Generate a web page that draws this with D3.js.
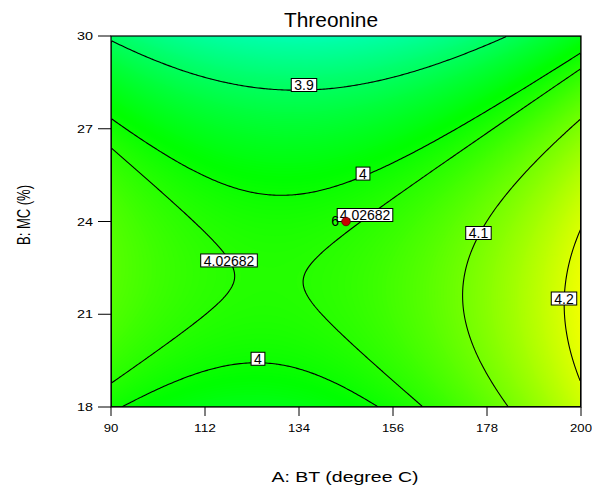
<!DOCTYPE html>
<html><head><meta charset="utf-8">
<script src="https://cdn.jsdelivr.net/npm/d3@7"></script>
<style>
body{margin:0;background:#fff}
svg{display:block}
text{font-family:"Liberation Sans",Arial,sans-serif;fill:#000}
</style>
</head><body>
<svg id="c" width="592" height="493"></svg>
<script>
// ---------------- data ----------------
const title = "Threonine";
const xLabel = "A: BT (degree C)";
const yLabel = "B: MC (%)";
const xDomain = [90, 200];
const yDomain = [18, 30];
const xTicks = [90, 112, 134, 156, 178, 200];
const yTicks = [18, 21, 24, 27, 30];
// quadratic response-surface model in coded units: Intercept, A, B, AB, A^2, B^2
const coefTerms = ["Intercept", "A", "B", "AB", "A2", "B2"];
const coefValues = [4.02227, 0.06411, -0.08199, -0.02562, 0.10980, -0.11865];
const contourLevels = [3.9, 4, 4.02682, 4.1, 4.2];
const labelTexts = ["3.9", "4", "4.02682", "4.1", "4.2", "4"];
const designPointA = [145];
const designPointB = [24];
const designPointCount = ["6"];
const designPointValue = ["4.02682"];

// ---------------- layout ----------------
const P = {left: 111, top: 36, right: 581, bottom: 407};
// label anchor positions (data coordinates)
const labelPosA = [135.17, 148.98, 117.62, 176.0, 196.02, 124.4];
const labelPosB = [28.415, 25.55, 22.74, 23.628, 21.509, 19.56];

const svg = d3.select("#c");
const x = d3.scaleLinear().domain(xDomain).range([P.left, P.right]);
const y = d3.scaleLinear().domain(yDomain).range([P.bottom, P.top]);

const cA = (xDomain[0] + xDomain[1]) / 2, hA = (xDomain[1] - xDomain[0]) / 2;
const cB = (yDomain[0] + yDomain[1]) / 2, hB = (yDomain[1] - yDomain[0]) / 2;
function model(A, B) {
  const a = (A - cA) / hA, b = (B - cB) / hB;
  const k = coefValues;
  return k[0] + k[1]*a + k[2]*b + k[3]*a*b + k[4]*a*a + k[5]*b*b;
}

// grid
const n = 235, m = 186;
const values = new Array(n * m);
for (let j = 0; j < m; j++) {
  const B = yDomain[1] - (j + 0.5) / m * (yDomain[1] - yDomain[0]);
  for (let i = 0; i < n; i++) {
    const A = xDomain[0] + (i + 0.5) / n * (xDomain[1] - xDomain[0]);
    values[j * n + i] = model(A, B);
  }
}
const vmin = d3.min(values), vmax = d3.max(values);

const color = d3.scaleLinear()
  .domain([3.745, 3.99, 4.235])
  .range(["#00ffff", "#00ff00", "#ffff00"])
  .clamp(true);

const sx = (P.right - P.left) / n, sy = (P.bottom - P.top) / m;
const proj = d3.geoTransform({
  point: function(px, py) { this.stream.point(P.left + px * sx, P.top + py * sy); }
});
const path = d3.geoPath(proj);

svg.append("clipPath").attr("id", "clip")
  .append("rect").attr("x", P.left).attr("y", P.top)
  .attr("width", P.right - P.left).attr("height", P.bottom - P.top);

const plot = svg.append("g").attr("clip-path", "url(#clip)");
plot.append("rect").attr("x", P.left).attr("y", P.top)
  .attr("width", P.right - P.left).attr("height", P.bottom - P.top)
  .attr("fill", color(vmin));

const fillThresholds = d3.range(Math.floor(vmin * 500) / 500, vmax, 0.002);
const bands = d3.contours().size([n, m]).thresholds(fillThresholds)(values);
plot.selectAll("path.band").data(bands).join("path")
  .attr("class", "band")
  .attr("d", path)
  .attr("fill", d => color(d.value + 0.001))
  .attr("stroke", d => color(d.value + 0.001))
  .attr("stroke-width", 0.5);

const lines = d3.contours().size([n, m]).thresholds(contourLevels)(values);
plot.selectAll("path.line").data(lines).join("path")
  .attr("class", "line")
  .attr("d", path)
  .attr("fill", "none")
  .attr("stroke", "#000")
  .attr("stroke-width", 1.1);

// contour labels
const lab = svg.append("g");
labelTexts.forEach((t, i) => {
  const g = lab.append("g").attr("transform", `translate(${x(labelPosA[i])},${y(labelPosB[i])})`);
  const r = g.append("rect");
  const tx = g.append("text").attr("text-anchor", "middle").attr("dy", "0.36em")
    .attr("font-size", 14).text(t);
  const w = tx.node().getComputedTextLength() + 6;
  r.attr("x", -w / 2).attr("y", -6.5).attr("width", w).attr("height", 13)
    .attr("fill", "#fff").attr("stroke", "#000").attr("stroke-width", 1);
  tx.raise();
});

// design point
designPointA.forEach((A, i) => {
  const g = svg.append("g").attr("transform", `translate(${x(A)},${y(designPointB[i])})`);
  const lg = g.append("g").attr("transform", "translate(19,-6.5)");
  const r = lg.append("rect");
  const tx = lg.append("text").attr("text-anchor", "middle").attr("dy", "0.36em")
    .attr("font-size", 14).text(designPointValue[i]);
  const w = tx.node().getComputedTextLength() + 5;
  r.attr("x", -w / 2).attr("y", -6.5).attr("width", w).attr("height", 13)
    .attr("fill", "#fff").attr("stroke", "#000");
  tx.raise();
  g.append("text").attr("x", -7).attr("y", 4.5).attr("text-anchor", "end")
    .attr("font-size", 14).text(designPointCount[i]);
  g.append("circle").attr("r", 4.3).attr("fill", "#c80000").attr("stroke", "#5a0000").attr("stroke-width", 0.8);
});

// frame
svg.append("rect").attr("x", P.left).attr("y", P.top)
  .attr("width", P.right - P.left).attr("height", P.bottom - P.top)
  .attr("fill", "none").attr("stroke", "#000").attr("stroke-width", 1.2);

// axes
const ax = svg.append("g");
xTicks.forEach(v => {
  ax.append("line").attr("x1", x(v)).attr("x2", x(v)).attr("y1", P.bottom).attr("y2", P.bottom + 9)
    .attr("stroke", "#000");
  ax.append("text").attr("x", x(v)).attr("y", 432).attr("text-anchor", "middle")
    .attr("font-size", 11).attr("textLength", String(v).length * 7.3).attr("lengthAdjust", "spacingAndGlyphs")
    .text(v);
});
yTicks.forEach(v => {
  ax.append("line").attr("x1", P.left - 13).attr("x2", P.left).attr("y1", y(v)).attr("y2", y(v))
    .attr("stroke", "#000");
  ax.append("text").attr("x", 93).attr("y", y(v) + 4).attr("text-anchor", "end")
    .attr("font-size", 11).attr("textLength", String(v).length * 8).attr("lengthAdjust", "spacingAndGlyphs")
    .text(v);
});

svg.append("text").attr("x", 331).attr("y", 27).attr("text-anchor", "middle")
  .attr("font-size", 20).attr("textLength", 94).attr("lengthAdjust", "spacingAndGlyphs").text(title);
svg.append("text").attr("x", 345).attr("y", 482).attr("text-anchor", "middle")
  .attr("font-size", 14.5).attr("textLength", 147).attr("lengthAdjust", "spacingAndGlyphs").text(xLabel);
svg.append("text").attr("transform", "translate(30,215) scale(1.3,1) rotate(-90)").attr("text-anchor", "middle")
  .attr("font-size", 13.5).attr("textLength", 60).attr("lengthAdjust", "spacingAndGlyphs").text(yLabel);
</script>
</body></html>
